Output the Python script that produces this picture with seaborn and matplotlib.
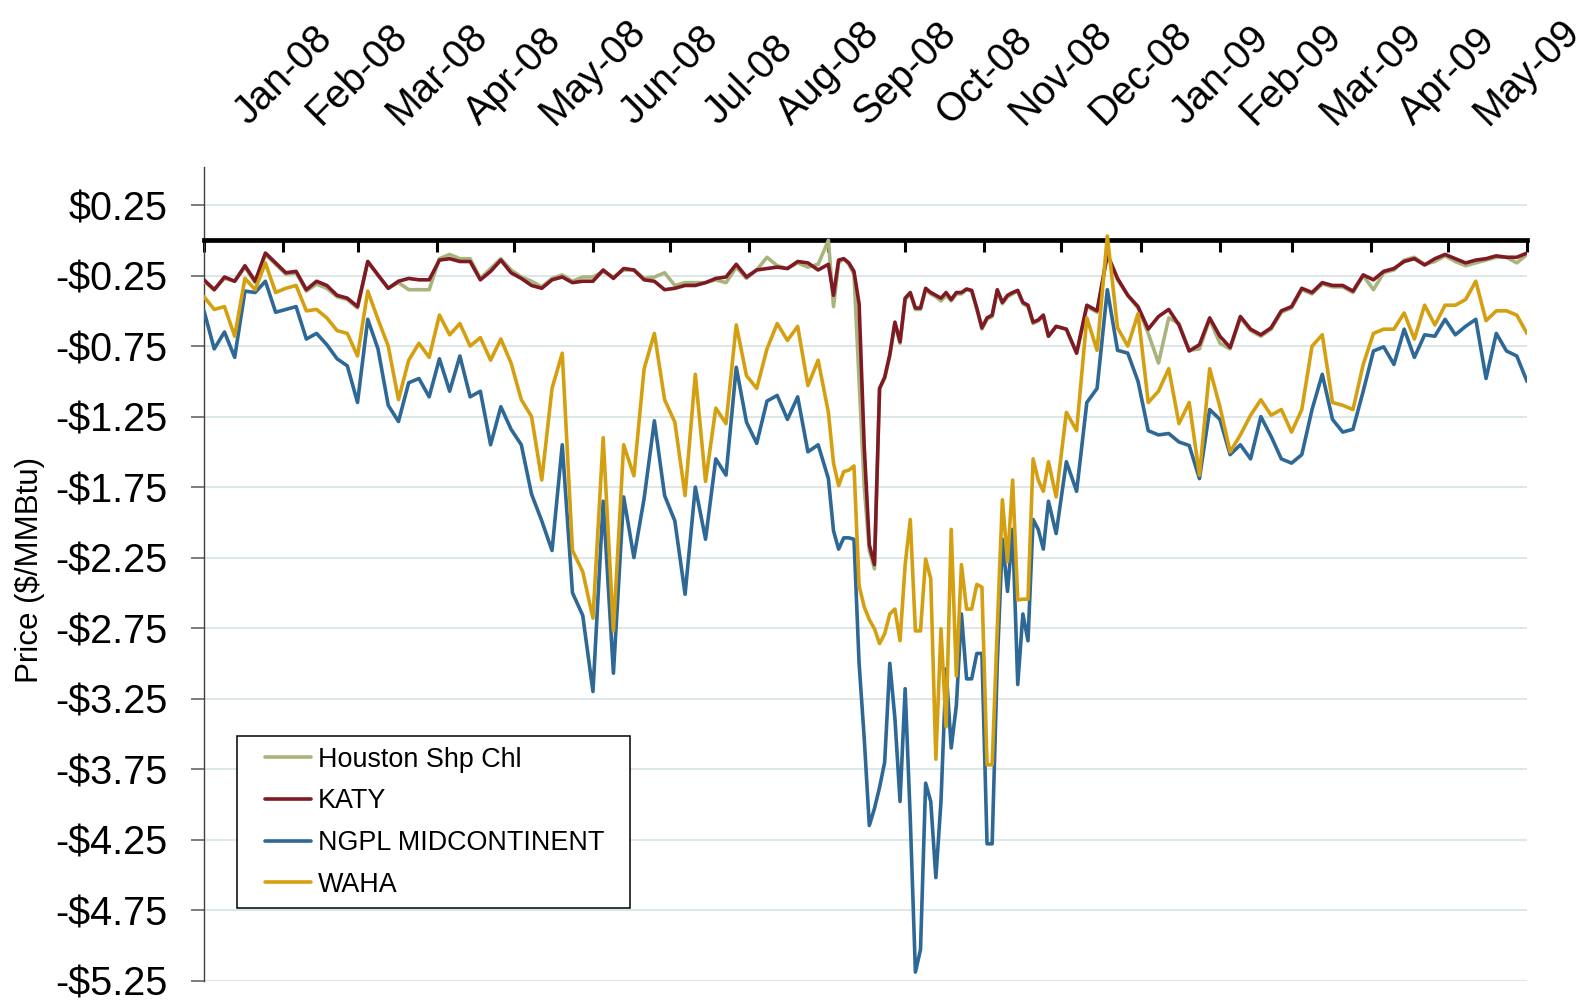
#Import packages

import matplotlib.pyplot as plt
from matplotlib.ticker import FuncFormatter
from matplotlib.transforms import ScaledTranslation, IdentityTransform
from matplotlib.patches import Rectangle
import numpy as np
import pandas as pd
import seaborn as sns

#Sample dates: every 4 days, every 2 days through the Sep-Nov 2008 swings
dates = (pd.date_range('2008-01-01', '2008-09-01', freq='4D')
         .append(pd.date_range('2008-09-03', '2008-11-26', freq='2D'))
         .append(pd.date_range('2008-11-29', '2009-06-01', freq='4D')))

hubs = ['Houston Shp Chl', 'KATY', 'NGPL MIDCONTINENT', 'WAHA']
colors = ['#A9B47C', '#7F1A24', '#2E6896', '#D4A011']

#Basis values ($/MMBtu)
houston = [
    -0.29, -0.35, -0.27, -0.29, -0.19, -0.30, -0.10, -0.17, -0.24, -0.23,
    -0.36, -0.31, -0.34, -0.40, -0.42, -0.48, -0.15, -0.25, -0.34, -0.30,
    -0.35, -0.35, -0.35, -0.13, -0.10, -0.13, -0.13, -0.27, -0.20, -0.13,
    -0.21, -0.26, -0.29, -0.33, -0.27, -0.245, -0.29, -0.26, -0.26, -0.22,
    -0.26, -0.21, -0.21, -0.27, -0.26, -0.23, -0.32, -0.30, -0.30, -0.30,
    -0.28, -0.30, -0.19, -0.27, -0.21, -0.12, -0.18, -0.20, -0.16, -0.19,
    -0.17, 0.00,
    # Sep - Nov 2008
    -0.47, -0.16, -0.13, -0.17, -0.24, -1.00, -1.75, -2.20, -2.33, -1.05,
    -0.98, -0.82, -0.59, -0.73, -0.42, -0.38, -0.49, -0.49, -0.35, -0.38,
    -0.40, -0.43, -0.39, -0.43, -0.38, -0.38, -0.35, -0.36, -0.49, -0.63,
    -0.56, -0.54, -0.36, -0.45, -0.40, -0.38, -0.36, -0.45, -0.47, -0.59,
    -0.57, -0.54, -0.68,
    # Dec 2008 - May 2009
    -0.61, -0.63, -0.80, -0.47, -0.51, -0.10, -0.28, -0.39, -0.48, -0.66,
    -0.87, -0.55, -0.59, -0.78, -0.77, -0.56, -0.73, -0.77, -0.55, -0.64,
    -0.68, -0.63, -0.51, -0.48, -0.35, -0.38, -0.31, -0.33, -0.33, -0.37,
    -0.25, -0.35, -0.23, -0.21, -0.14, -0.12, -0.17, -0.15, -0.11, -0.15,
    -0.18, -0.16, -0.14, -0.12, -0.12, -0.16, -0.10]

katy = [
    -0.28, -0.35, -0.26, -0.29, -0.18, -0.29, -0.09, -0.16, -0.23, -0.22,
    -0.35, -0.29, -0.32, -0.39, -0.41, -0.47, -0.15, -0.245, -0.34, -0.29,
    -0.27, -0.28, -0.28, -0.14, -0.13, -0.15, -0.15, -0.28, -0.22, -0.14,
    -0.23, -0.27, -0.32, -0.34, -0.28, -0.26, -0.30, -0.29, -0.29, -0.21,
    -0.27, -0.20, -0.21, -0.28, -0.29, -0.35, -0.34, -0.32, -0.32, -0.30,
    -0.27, -0.26, -0.17, -0.26, -0.21, -0.20, -0.19, -0.20, -0.15, -0.16,
    -0.21, -0.17,
    # Sep - Nov 2008
    -0.39, -0.14, -0.13, -0.16, -0.22, -0.45, -1.46, -2.16, -2.30, -1.05,
    -0.97, -0.81, -0.58, -0.72, -0.41, -0.37, -0.48, -0.48, -0.34, -0.37,
    -0.39, -0.41, -0.37, -0.42, -0.37, -0.37, -0.345, -0.355, -0.48, -0.62,
    -0.55, -0.53, -0.35, -0.44, -0.39, -0.37, -0.355, -0.44, -0.46, -0.58,
    -0.565, -0.53, -0.68,
    # Dec 2008 - May 2009
    -0.61, -0.63, -0.80, -0.46, -0.50, -0.10, -0.27, -0.39, -0.47, -0.63,
    -0.54, -0.49, -0.60, -0.785, -0.74, -0.55, -0.68, -0.76, -0.54, -0.63,
    -0.67, -0.62, -0.50, -0.47, -0.34, -0.37, -0.30, -0.32, -0.32, -0.36,
    -0.245, -0.28, -0.22, -0.20, -0.15, -0.13, -0.175, -0.13, -0.10, -0.13,
    -0.16, -0.14, -0.13, -0.11, -0.12, -0.12, -0.09]

ngpl = [
    -0.50, -0.77, -0.65, -0.83, -0.36, -0.37, -0.29, -0.51, -0.49, -0.47,
    -0.70, -0.66, -0.74, -0.84, -0.89, -1.15, -0.56, -0.77, -1.17, -1.285,
    -1.01, -0.98, -1.11, -0.84, -1.07, -0.82, -1.11, -1.07, -1.45, -1.18,
    -1.34, -1.45, -1.80, -1.99, -2.20, -1.45, -2.50, -2.66, -3.20, -1.85,
    -3.07, -1.82, -2.25, -1.83, -1.28, -1.81, -1.99, -2.51, -1.75, -2.12,
    -1.55, -1.665, -0.90, -1.29, -1.44, -1.14, -1.10, -1.27, -1.11, -1.50,
    -1.45, -1.69,
    # Sep - Nov 2008
    -2.06, -2.19, -2.11, -2.11, -2.12, -3.00, -3.53, -4.15, -4.03, -3.88,
    -3.70, -3.00, -3.39, -3.98, -3.18, -4.10, -5.19, -5.03, -3.85, -3.98,
    -4.52, -3.98, -3.04, -3.60, -3.30, -2.65, -3.11, -3.11, -2.93, -2.93,
    -4.28, -4.28, -3.00, -2.12, -2.49, -2.05, -3.15, -2.65, -2.84, -1.98,
    -2.05, -2.19, -1.85,
    # Dec 2008 - May 2009
    -2.08, -1.57, -1.78, -1.15, -1.05, -0.35, -0.78, -0.80, -1.00, -1.35,
    -1.38, -1.37, -1.43, -1.455, -1.69, -1.20, -1.27, -1.52, -1.45, -1.55,
    -1.25, -1.39, -1.55, -1.58, -1.52, -1.20, -0.95, -1.27, -1.36, -1.34,
    -1.07, -0.785, -0.755, -0.88, -0.63, -0.83, -0.67, -0.68, -0.56, -0.67,
    -0.61, -0.56, -0.98, -0.66, -0.785, -0.82, -1.00]

waha = [
    -0.40, -0.49, -0.47, -0.68, -0.27, -0.35, -0.16, -0.37, -0.34, -0.32,
    -0.50, -0.49, -0.55, -0.64, -0.66, -0.82, -0.36, -0.56, -0.75, -1.13,
    -0.85, -0.73, -0.83, -0.53, -0.67, -0.59, -0.75, -0.69, -0.85, -0.70,
    -0.87, -1.13, -1.25, -1.70, -1.05, -0.80, -2.20, -2.35, -2.68, -1.40,
    -2.77, -1.45, -1.67, -0.91, -0.66, -1.13, -1.29, -1.81, -0.95, -1.71,
    -1.19, -1.30, -0.60, -0.96, -1.05, -0.77, -0.59, -0.71, -0.61, -1.03,
    -0.85, -1.22,
    # Sep - Nov 2008
    -1.58, -1.74, -1.64, -1.63, -1.60, -2.45, -2.60, -2.69, -2.755, -2.86,
    -2.79, -2.65, -2.615, -2.84, -2.30, -1.98, -2.77, -2.77, -2.26, -2.40,
    -3.68, -2.755, -3.45, -2.05, -3.09, -2.30, -2.615, -2.615, -2.44, -2.46,
    -3.72, -3.72, -2.75, -1.84, -2.28, -1.70, -2.55, -2.545, -2.545, -1.55,
    -1.70, -1.78, -1.57,
    # Dec 2008 - May 2009
    -1.82, -1.22, -1.35, -0.55, -0.78, 0.03, -0.62, -0.75, -0.52, -1.15,
    -1.07, -0.91, -1.30, -1.15, -1.665, -0.91, -1.18, -1.50, -1.38, -1.24,
    -1.13, -1.24, -1.20, -1.36, -1.20, -0.75, -0.67, -1.15, -1.17, -1.20,
    -0.88, -0.66, -0.63, -0.63, -0.515, -0.70, -0.46, -0.60, -0.46, -0.46,
    -0.42, -0.29, -0.57, -0.50, -0.50, -0.53, -0.66]

months = pd.date_range('2008-01-01', '2009-06-01', freq='MS')
month_labels = [m.strftime('%b-%y') for m in months[:-1]] + ['']
y_ticks = np.arange(0.25, -5.3, -0.5)

# Long-form table for seaborn
df = pd.DataFrame({'date': dates, hubs[0]: houston, hubs[1]: katy,
                   hubs[2]: ngpl, hubs[3]: waha})
df = df.melt(id_vars='date', var_name='hub', value_name='price')

# Plot
sns.set_theme(style='white')
plt.rcParams['font.family'] = ['Liberation Sans', 'DejaVu Sans']
plt.rcParams['text.color'] = 'black'

fig = plt.figure(figsize=(15.85, 10.02), dpi=100)
ax = fig.add_axes([0.1287, 0.0214, 0.8347, 0.8119])

sns.lineplot(data=df, x='date', y='price', hue='hub', hue_order=hubs,
             palette=colors, linewidth=2.6, errorbar=None, zorder=3, ax=ax)

ax.set_xlim(months[0], months[-1])
ax.set_ylim(-5.25, 0.52)
ax.set_yticks(y_ticks)
ax.yaxis.set_major_formatter(FuncFormatter(
    lambda v, p: '-$%.2f' % -v if v < 0 else '$%.2f' % v))
ax.grid(axis='y', color='#d6e3e6', linewidth=1.2)
ax.set_axisbelow(True)

ax.spines['top'].set_visible(False)
ax.spines['right'].set_visible(False)
ax.spines['bottom'].set_position(('data', 0))
ax.spines['bottom'].set_linewidth(3.4)
ax.spines['bottom'].set_color('black')
ax.spines['left'].set_linewidth(1.0)
ax.spines['left'].set_color('#404040')

ax.set_xticks(months)
ax.set_xticklabels(month_labels)
ax.tick_params(axis='x', bottom=True, top=False, labelbottom=False,
               labeltop=True, direction='out', length=8.5, width=2.2,
               color='black', labelsize=28.5, labelrotation=45, pad=17,
               labelcolor='black')
ax.tick_params(axis='y', left=True, direction='out', length=9.4, width=1.2,
               color='#666666', labelsize=28.5, pad=17, labelcolor='black')

ax.set_xlabel('')
ax.set_ylabel('Price ($/MMBtu)', fontsize=22.5, color='black')
ax.yaxis.set_label_coords(-0.120, 0.505)

# month labels sit centred on the following month's tick
px_per_day = ax.bbox.width / (months[-1] - months[0]).days
for k, tick in enumerate(ax.xaxis.get_major_ticks()[:-1]):
    dx = (months[k + 1] - months[k]).days * px_per_day
    tick.label2.set_transform(tick.label2.get_transform() +
                              ScaledTranslation(dx / fig.dpi, 0, fig.dpi_scale_trans))

# Legend (frame drawn separately: wider side margins than matplotlib's)
old = ax.get_legend()
handles = old.legend_handles
labels = [t.get_text() for t in old.get_texts()]
old.remove()
leg = ax.legend(handles, labels, loc='lower left', bbox_to_anchor=(0.0382, 0.0891),
                borderaxespad=0, fontsize=19.4, frameon=False, borderpad=0.39,
                labelspacing=0.58, handlelength=1.7, handletextpad=0.25,
                labelcolor='black')
for h in leg.get_lines():
    h.set_linewidth(2.6)

fig.canvas.draw()
bb = leg.get_window_extent()
ax.add_patch(Rectangle((bb.x0 - 18, bb.y0), bb.width + 34, bb.height,
                       transform=IdentityTransform(), facecolor='white',
                       edgecolor='black', linewidth=1.1, zorder=4.5, clip_on=False))

fig.savefig('out.png', dpi=100)
